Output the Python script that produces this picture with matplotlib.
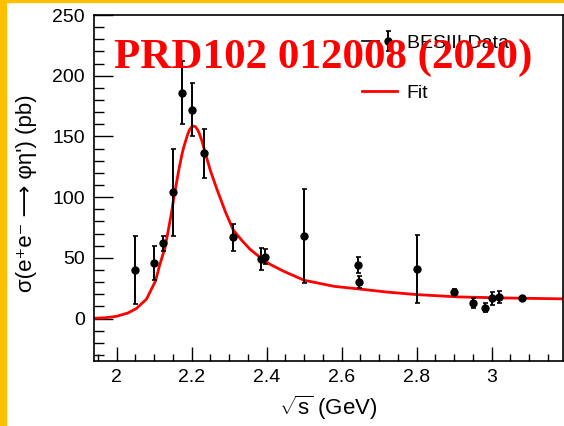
import matplotlib
matplotlib.use("Agg")
import matplotlib.pyplot as plt
from matplotlib.patches import Rectangle
from matplotlib.lines import Line2D
from matplotlib.legend_handler import HandlerTuple
from matplotlib.ticker import MultipleLocator

plt.rcParams['font.family'] = ['Liberation Sans', 'DejaVu Sans']
plt.rcParams['mathtext.fontset'] = 'custom'
plt.rcParams['mathtext.rm'] = 'Liberation Sans'
plt.rcParams['mathtext.it'] = 'Liberation Sans:italic'

# BESIII data points
energy = [2.05, 2.10, 2.125, 2.15, 2.175, 2.20, 2.2324, 2.3094, 2.3864, 2.396,
          2.50, 2.6444, 2.6464, 2.80, 2.90, 2.95, 2.981, 3.00, 3.02, 3.08]
sigma = [40, 46, 62, 104, 186, 172, 136, 67, 49, 51,
         68, 44, 30, 40.5, 22, 13, 9, 16.5, 18, 17]
sigma_err = [28, 14, 6, 36, 26, 22, 20, 11, 9, 6,
             39, 6.5, 5, 28, 2.5, 4, 3.5, 5, 5, 1.5]

# fit curve
fit_x = [1.94, 1.97, 2.00, 2.03, 2.053, 2.08, 2.104, 2.115, 2.129, 2.14, 2.147,
         2.153, 2.16, 2.167, 2.175, 2.18, 2.185, 2.19, 2.195, 2.20, 2.205,
         2.21, 2.215, 2.22, 2.228, 2.236, 2.25, 2.267, 2.29, 2.311, 2.335,
         2.356, 2.39, 2.41, 2.445, 2.50, 2.58, 2.65, 2.72, 2.80, 2.91,
         3.02, 3.10, 3.19]
fit_y = [0.2, 0.6, 1.8, 4.5, 8.2, 16, 31, 44, 58, 76, 88,
         100, 112, 124, 136, 142, 147, 152, 155.5, 157.8, 158.5,
         158, 156, 153, 146, 137, 122, 107, 88, 73, 64,
         57, 48.5, 44.5, 39, 31.5, 26.5, 24.2, 21.8, 19.7, 17.8,
         17, 16.6, 16.2]

fig = plt.figure(figsize=(5.64, 4.26), dpi=100)
ax = fig.add_axes([94 / 564, 1 - 361 / 426, 469 / 564, 346 / 426])

fit_line, = ax.plot(fit_x, fit_y, color='red', lw=2, zorder=2)
data = ax.errorbar(energy, sigma, yerr=sigma_err, fmt='o', color='black',
                   ms=5, elinewidth=1.4, capsize=1.8, capthick=1.2, zorder=3)

ax.set_xlim(1.94, 3.19)
ax.set_ylim(-35, 250)
ax.xaxis.set_major_locator(MultipleLocator(0.2))
ax.xaxis.set_minor_locator(MultipleLocator(0.05))
ax.yaxis.set_major_locator(MultipleLocator(50))
ax.yaxis.set_minor_locator(MultipleLocator(10))
ax.xaxis.set_major_formatter(matplotlib.ticker.FuncFormatter(lambda v, p: f"{v:g}"))

ax.tick_params(axis='both', which='both', direction='in', top=False, right=False,
               width=1, labelsize=14)
ax.tick_params(axis='y', which='major', length=14, pad=6.5)
ax.tick_params(axis='y', which='minor', length=7)
ax.tick_params(axis='x', which='major', length=10, pad=6)
ax.tick_params(axis='x', which='minor', length=5)
for sp in ax.spines.values():
    sp.set_linewidth(1.2)

ax.set_xlabel(r"$\sqrt{\mathrm{s}}$ (GeV)", fontsize=16)
ax.set_ylabel("σ(e⁺e⁻ ⟶ φη') (pb)", fontsize=16,
              family=['Liberation Sans', 'DejaVu Sans'])
ax.xaxis.set_label_coords(0.5, -0.095)
ax.yaxis.set_label_coords(-0.1215, 0.484)

hline = Line2D([], [], color='black', lw=1.2)
ax.legend([(hline, data), fit_line], ["BESIII Data", "Fit"],
          handler_map={tuple: HandlerTuple(ndivide=None)},
          loc='upper left', bbox_to_anchor=(0.571, 0.945), frameon=False,
          fontsize=14, labelspacing=1.66, handlelength=1.8, handletextpad=0.5,
          borderpad=0, borderaxespad=0)

fig.text(323.5 / 564, 1 - 68 / 426, "PRD102 012008 (2020)", color='red',
         fontsize=31, fontweight='bold', family='Liberation Serif',
         ha='center', va='baseline', zorder=10)

# yellow frame strips
fig.patches.append(Rectangle((0, 0), 6 / 564, 1, transform=fig.transFigure,
                             color='#FFC000', zorder=20))
fig.patches.append(Rectangle((0, 1 - 2 / 426), 1, 2 / 426, transform=fig.transFigure,
                             color='#FFC000', zorder=20))

fig.savefig("out.png", dpi=100)
